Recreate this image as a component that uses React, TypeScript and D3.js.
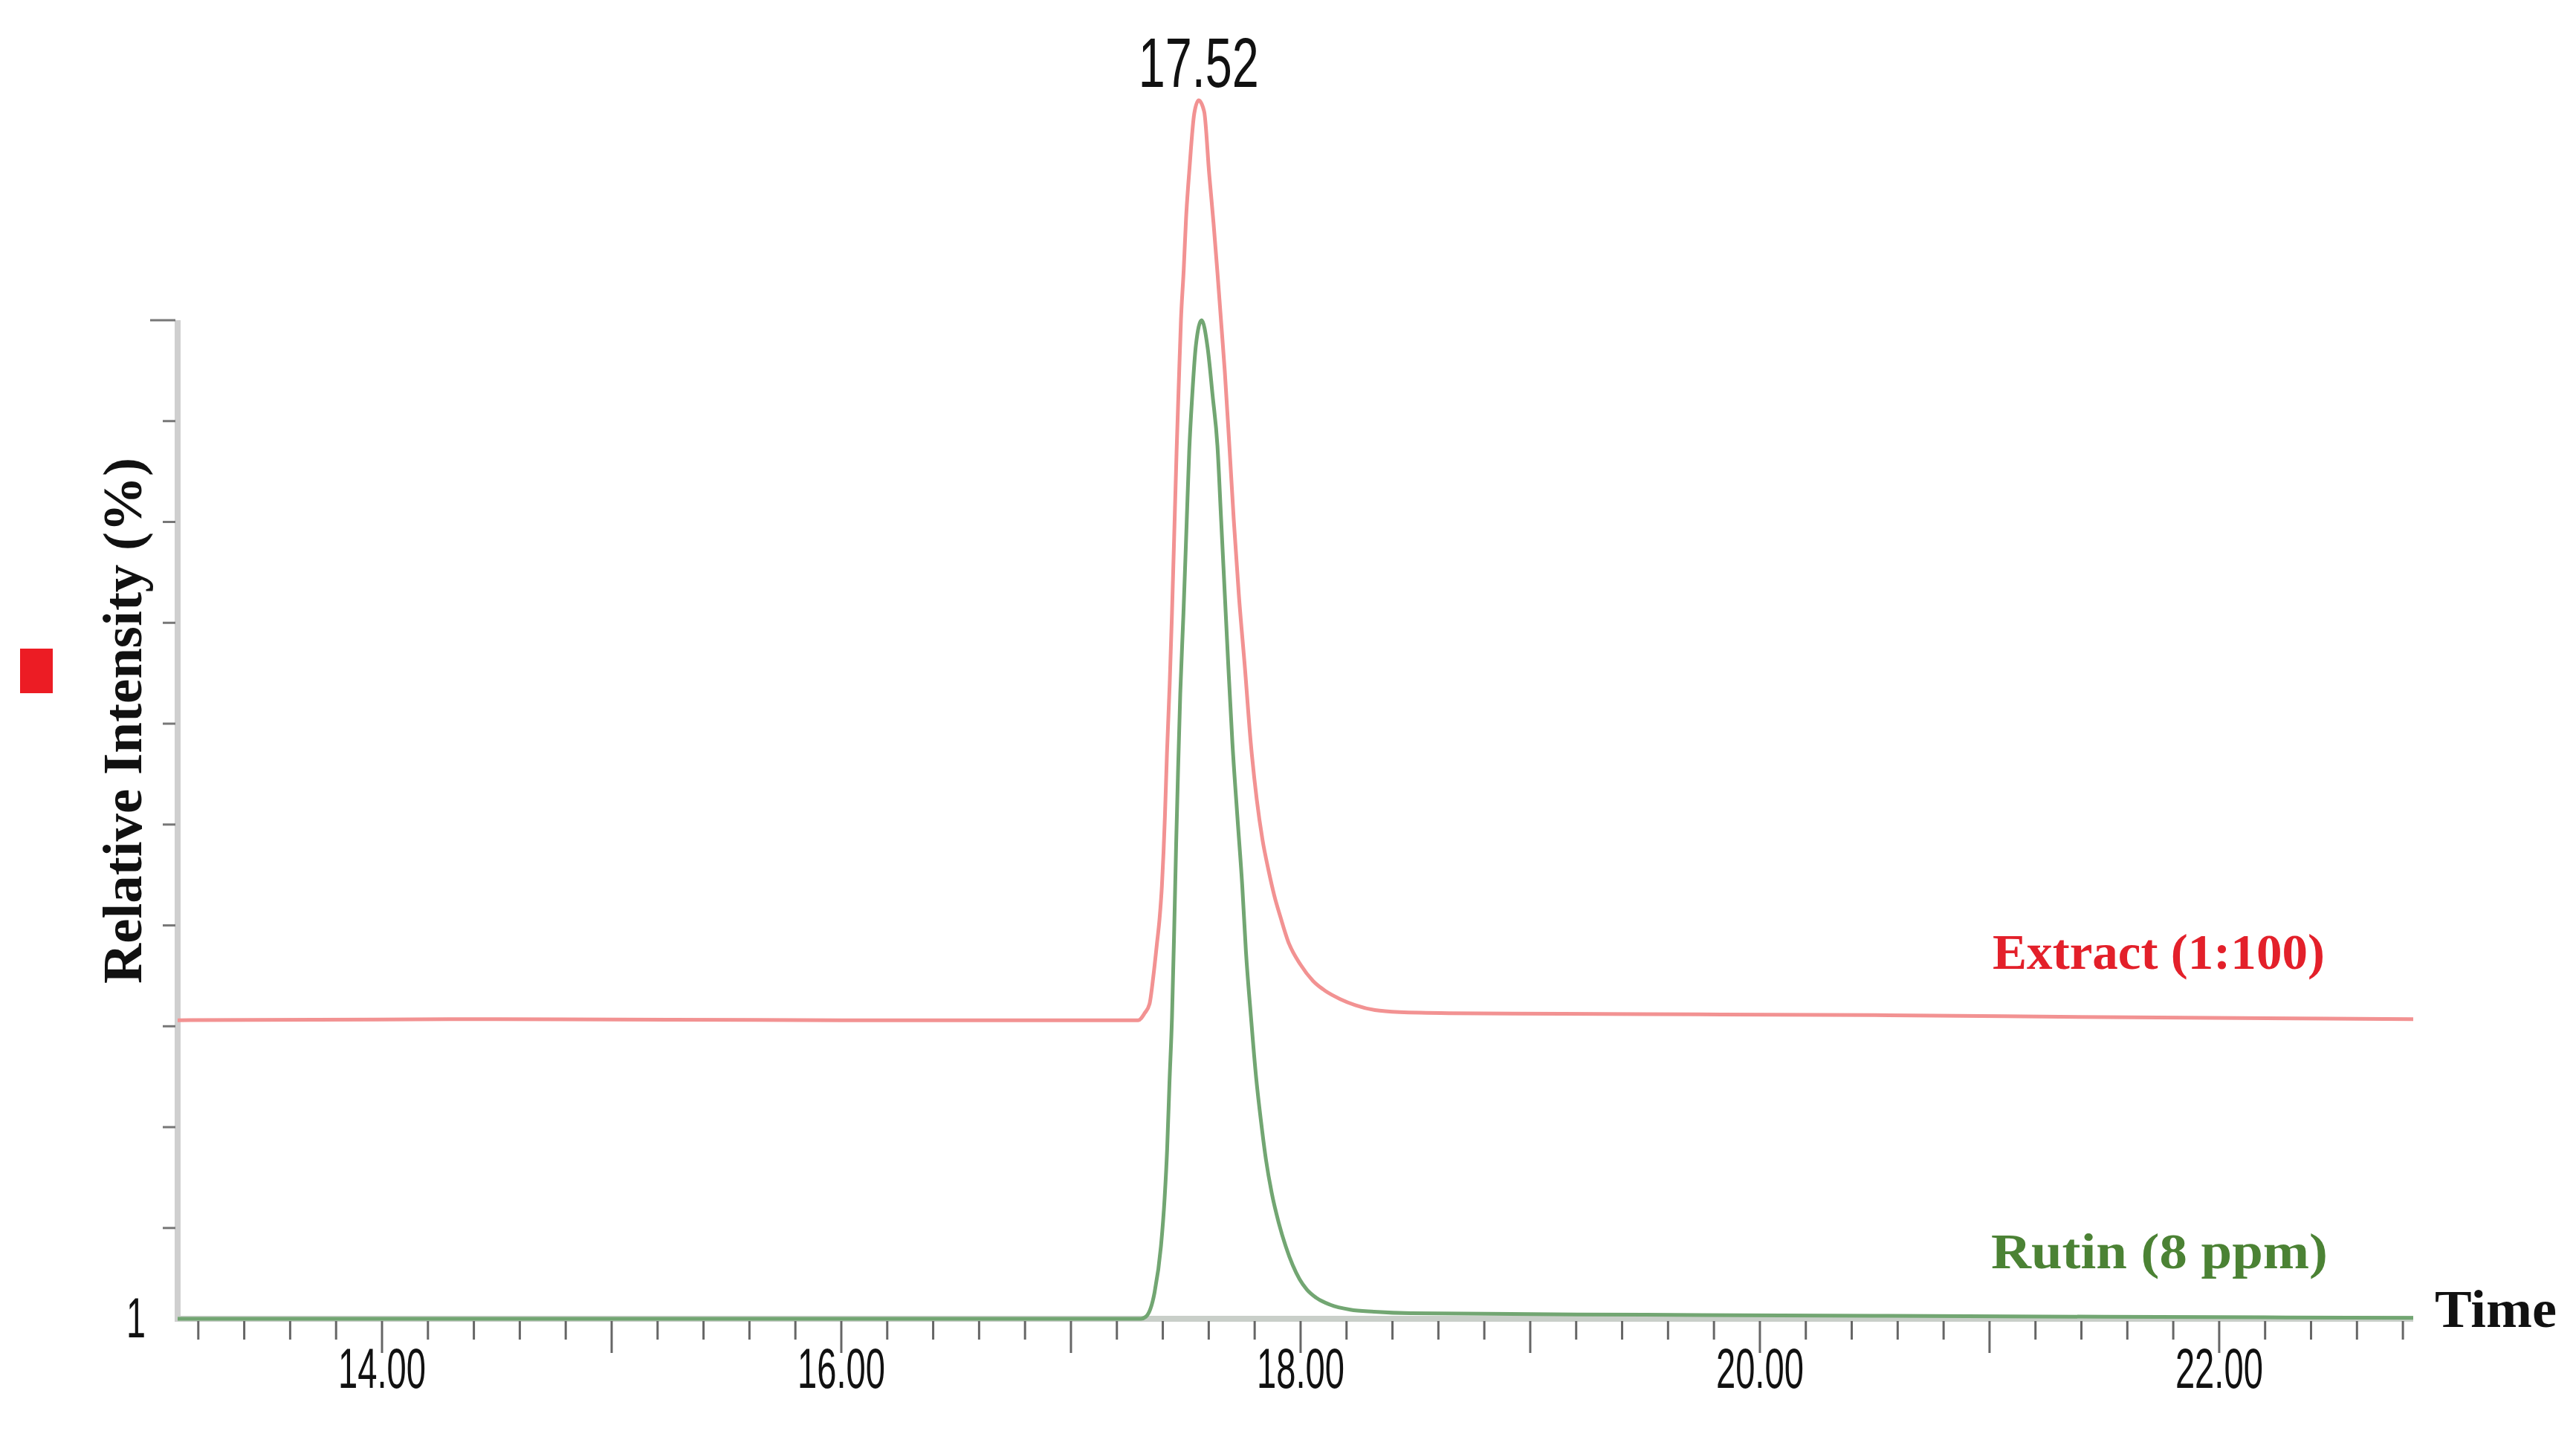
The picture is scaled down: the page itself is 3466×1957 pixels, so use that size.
import React from "react";
import * as d3 from "d3";

// ---- data ----
const timeRed = [13.11, 14.5, 16.0, 17.0, 17.293, 17.321, 17.342, 17.358, 17.374, 17.386, 17.396, 17.403, 17.409, 17.418, 17.43, 17.44, 17.45, 17.46, 17.47, 17.479, 17.491, 17.501, 17.516, 17.537, 17.556, 17.58, 17.602, 17.621, 17.638, 17.654, 17.67, 17.69, 17.709, 17.731, 17.758, 17.783, 17.809, 17.834, 17.86, 17.885, 17.914, 17.946, 18.0, 18.054, 18.108, 18.172, 18.238, 18.324, 18.431, 18.65, 19.5, 20.5, 21.5, 22.845];
const redIntensity = [30.6, 30.7, 30.6, 30.6, 30.6, 31.3, 32.2, 34.8, 38.1, 40.7, 43.9, 47.2, 50.7, 57, 64, 71, 79, 87, 94, 100, 105, 110, 115, 120.5, 121.8, 120.7, 114.5, 109.6, 104.7, 99.8, 94.9, 87.5, 80.2, 72.8, 65.4, 58.1, 52.5, 48.5, 45.5, 43.0, 40.7, 38.4, 36.1, 34.5, 33.5, 32.7, 32.1, 31.6, 31.4, 31.3, 31.2, 31.1, 30.9, 30.7];

const timeGreen = [13.11, 15.0, 17.0, 17.305, 17.326, 17.364, 17.392, 17.408, 17.419, 17.429, 17.44, 17.45, 17.458, 17.466, 17.476, 17.49, 17.504, 17.515, 17.528, 17.544, 17.569, 17.595, 17.617, 17.638, 17.654, 17.67, 17.686, 17.703, 17.725, 17.746, 17.762, 17.784, 17.806, 17.828, 17.849, 17.874, 17.905, 17.935, 17.966, 17.996, 18.027, 18.067, 18.128, 18.216, 18.32, 18.48, 19.5, 20.5, 21.5, 22.845];
const greenIntensity = [1.0, 1.0, 1.0, 1.0, 1.2, 3.6, 8.2, 13.0, 17.9, 24.4, 30.9, 40, 48, 55, 63, 71, 80, 87, 92.5, 97.5, 100, 97.3, 92.5, 87.5, 80.2, 72.8, 65.4, 58.1, 50.7, 43.9, 37.4, 30.9, 25.0, 20.5, 16.8, 13.5, 10.5, 8.2, 6.3, 4.9, 3.9, 3.1, 2.4, 1.9, 1.7, 1.55, 1.4, 1.3, 1.2, 1.1];

const xLabelValues = [14, 16, 18, 20, 22];
const xLabelTexts = ["14.00", "16.00", "18.00", "20.00", "22.00"];
const yTickValues = [100, 90, 80, 70, 60, 50, 40, 30, 20, 10];
const xDomain = [13.11, 22.845];
const yDomain = [1, 100];
const peakLabel = "17.52";
const seriesLabels = ["Extract (1:100)", "Rutin (8 ppm)"];

export default function App() {
  const W = 3466, H = 1957;
  const x = d3.scaleLinear().domain(xDomain).range([239, 3247]);
  const y = d3.scaleLinear().domain(yDomain).range([1775, 431]);

  const line = d3
    .line<[number, number]>()
    .x((d) => x(d[0]))
    .y((d) => y(d[1]))
    .curve(d3.curveMonotoneX);

  const redPts = timeRed.map((t, i) => [t, redIntensity[i]] as [number, number]);
  const greenPts = timeGreen.map((t, i) => [t, greenIntensity[i]] as [number, number]);

  const minorTicks = d3.range(13.2, 22.8, 0.2).map((v) => Math.round(v * 10) / 10).filter((v) => v <= xDomain[1]);
  const peakIdx = redIntensity.indexOf(d3.max(redIntensity) as number);

  const sans = "'Liberation Sans Narrow', 'Liberation Sans', Arial, sans-serif";
  const serif = "'Liberation Serif', 'Times New Roman', serif";

  return (
    <svg width={W} height={H} style={{ position: "absolute", left: 0, top: 0, background: "#fff" }}>
      <rect x={0} y={0} width={W} height={H} fill="#fff" />
      {/* red marker */}
      <rect x={27} y={873} width={44} height={60} fill="#ec1c24" />

      {/* y axis */}
      <line x1={x(xDomain[0])} x2={x(xDomain[0])} y1={y(100)} y2={y(1) + 4} stroke="#cfcfcf" strokeWidth={8} />
      {yTickValues.map((v) => (
        <line key={v} x1={x(xDomain[0]) - (v === 100 ? 37 : 20)} x2={x(xDomain[0]) - 3} y1={y(v)} y2={y(v)} stroke="#777" strokeWidth={3} />
      ))}
      <text x={183} y={1800} fontFamily={sans} fontSize={76} textAnchor="middle" fill="#111" textLength={26} lengthAdjust="spacingAndGlyphs">1</text>

      {/* y title */}
      <text
        transform={`translate(190, 970) rotate(-90)`}
        fontFamily={serif}
        fontWeight="bold"
        fontSize={74}
        textAnchor="middle"
        fill="#111"
        textLength={708}
        lengthAdjust="spacingAndGlyphs"
      >
        Relative Intensity (%)
      </text>

      {/* x axis band */}
      <line x1={x(xDomain[0])} x2={x(xDomain[1])} y1={y(1)} y2={y(1)} stroke="#c9cfc9" strokeWidth={8} />
      {minorTicks.map((v) => {
        const major = Math.abs(v - Math.round(v)) < 1e-6;
        return (
          <line key={v} x1={x(v)} x2={x(v)} y1={y(1) + 3} y2={y(1) + (major ? 46 : 28)} stroke="#666" strokeWidth={3} />
        );
      })}
      {xLabelValues.map((v, i) => (
        <text key={v} x={x(v)} y={1868} fontFamily={sans} fontSize={76} textAnchor="middle" fill="#111" textLength={118} lengthAdjust="spacingAndGlyphs">
          {xLabelTexts[i]}
        </text>
      ))}

      {/* traces */}
      <path d={line(redPts) || ""} fill="none" stroke="#f29292" strokeWidth={5} strokeLinejoin="round" />
      <path d={line(greenPts) || ""} fill="none" stroke="#72a672" strokeWidth={5} strokeLinejoin="round" />

      {/* peak label */}
      <text x={x(timeRed[peakIdx])} y={117} fontFamily={sans} fontSize={95} textAnchor="middle" fill="#111" textLength={162} lengthAdjust="spacingAndGlyphs">
        {peakLabel}
      </text>

      {/* series labels */}
      <text x={2681} y={1304} fontFamily={serif} fontWeight="bold" fontSize={68} fill="#e3202a" textLength={447} lengthAdjust="spacingAndGlyphs">
        {seriesLabels[0]}
      </text>
      <text x={2679} y={1707} fontFamily={serif} fontWeight="bold" fontSize={68} fill="#4b8234" textLength={453} lengthAdjust="spacingAndGlyphs">
        {seriesLabels[1]}
      </text>
      <text x={3276} y={1786} fontFamily={serif} fontWeight="bold" fontSize={72} fill="#111" textLength={164} lengthAdjust="spacingAndGlyphs">
        Time
      </text>
    </svg>
  );
}
